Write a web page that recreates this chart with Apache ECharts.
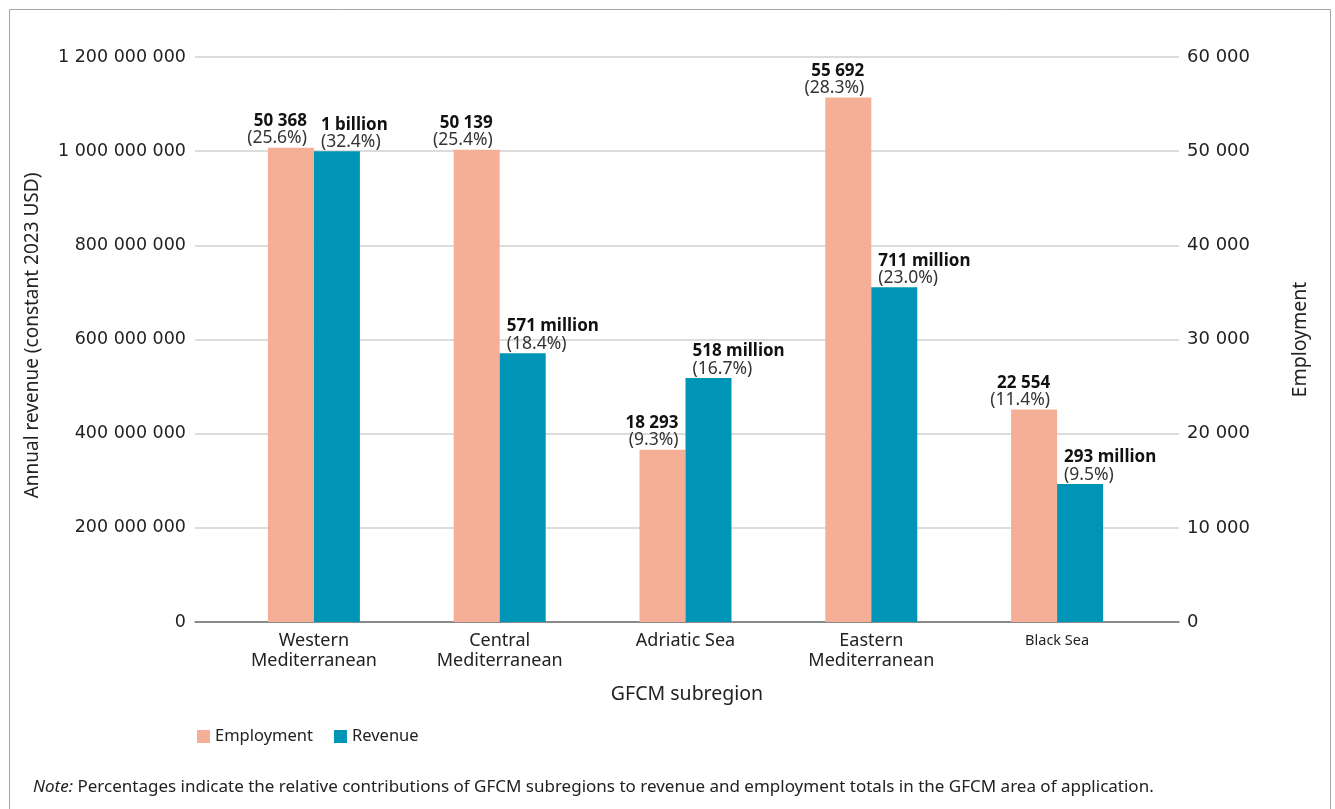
<!DOCTYPE html>
<html>
<head>
<meta charset="utf-8">
<script src="https://cdn.jsdelivr.net/npm/echarts@6/dist/echarts.min.js"></script>
<style>
  html, body { margin: 0; padding: 0; background: #fff; }
  #main { width: 1335px; height: 809px; }
</style>
</head>
<body>
<div id="main"></div>
<script>
var subregions = ['Western\nMediterranean', 'Central\nMediterranean', 'Adriatic Sea', 'Eastern\nMediterranean', 'Black Sea'];
var employment = [50368, 50139, 18293, 55692, 22554];
var employmentShare = ['25.6%', '25.4%', '9.3%', '28.3%', '11.4%'];
var revenue = [1000000000, 571000000, 518000000, 711000000, 293000000];
var revenueText = ['1 billion', '571 million', '518 million', '711 million', '293 million'];
var revenueShare = ['32.4%', '18.4%', '16.7%', '23.0%', '9.5%'];

var revenueTicks = { min: 0, max: 1200000000, interval: 200000000 };
var employmentTicks = { min: 0, max: 60000, interval: 10000 };

var dom = document.getElementById('main');
var myChart = echarts.init(dom);

function spaced(v) {
    return String(v).replace(/\B(?=(\d{3})+(?!\d))/g, ' ');
}

var labelRich = {
    b: { fontFamily: 'Noto Sans', fontSize: 17, fontWeight: 'bold', color: '#111', lineHeight: 17 },
    p: { fontFamily: 'Noto Sans', fontSize: 17.5, color: '#333', lineHeight: 17 }
};

var catData = subregions.map(function (s) {
    if (s === 'Black Sea') return { value: s, textStyle: { fontSize: 14.5 } };
    return s;
});

option = {
    backgroundColor: '#fff',
    animation: false,
    graphic: [
        {
            type: 'rect',
            shape: { x: 9.5, y: 9.5, width: 1321, height: 820 },
            style: { fill: 'none', stroke: '#9ea8ae', lineWidth: 1 }
        },
        {
            type: 'text',
            left: 33,
            top: 779,
            style: {
                text: '{i|Note:} Percentages indicate the relative contributions of GFCM subregions to revenue and employment totals in the GFCM area of application.',
                rich: {
                    i: { fontStyle: 'italic', fontFamily: 'Noto Sans', fontSize: 17, fill: '#222' }
                },
                fontFamily: 'Noto Sans',
                fontSize: 17,
                fill: '#222'
            }
        }
    ],
    legend: {
        data: ['Employment', 'Revenue'],
        left: 192,
        top: 723,
        icon: 'rect',
        itemWidth: 13,
        itemHeight: 13,
        itemGap: 21,
        textStyle: { fontFamily: 'Noto Sans', fontSize: 16.5, color: '#222' }
    },
    grid: [
        { left: 195, right: 156, top: 57, bottom: 187 },
        { left: 221, right: 185, top: 57, bottom: 187 }
    ],
    xAxis: [
        {
            gridIndex: 0,
            type: 'category',
            data: ['', '', '', '', ''],
            axisLine: { show: true, lineStyle: { color: '#707070', width: 1.5 } },
            axisTick: { show: false },
            axisLabel: { show: false },
            name: 'GFCM subregion',
            nameLocation: 'middle',
            nameGap: 62,
            nameTextStyle: { fontFamily: 'Noto Sans', fontSize: 19.5, color: '#222' }
        },
        {
            gridIndex: 1,
            type: 'category',
            data: catData,
            axisLine: { show: false },
            axisTick: { show: false },
            axisLabel: {
                margin: 9,
                fontFamily: 'Noto Sans',
                fontSize: 18,
                lineHeight: 20,
                color: '#222',
                interval: 0
            }
        }
    ],
    yAxis: [
        {
            gridIndex: 0,
            type: 'value',
            min: revenueTicks.min,
            max: revenueTicks.max,
            interval: revenueTicks.interval,
            axisLine: { show: false },
            axisTick: { show: false },
            splitLine: { lineStyle: { color: '#d0d0d0', width: 1.5 } },
            axisLabel: {
                margin: 9,
                fontFamily: 'DejaVu Sans',
                fontSize: 17.5,
                color: '#222',
                formatter: spaced
            },
            name: 'Annual revenue (constant 2023 USD)',
            nameLocation: 'middle',
            nameGap: 153,
            nameRotate: 90,
            nameTextStyle: { fontFamily: 'Noto Sans', fontSize: 19, color: '#222', padding: [0, 0, 0, 8] }
        },
        {
            gridIndex: 0,
            type: 'value',
            position: 'right',
            min: employmentTicks.min,
            max: employmentTicks.max,
            interval: employmentTicks.interval,
            axisLine: { show: false },
            axisTick: { show: false },
            splitLine: { show: false },
            axisLabel: {
                margin: 8,
                fontFamily: 'DejaVu Sans',
                fontSize: 18,
                color: '#222',
                formatter: spaced
            },
            name: 'Employment',
            nameLocation: 'middle',
            nameGap: 111,
            nameRotate: 90,
            nameTextStyle: { fontFamily: 'Noto Sans', fontSize: 19.5, color: '#222' }
        },
        {
            gridIndex: 1,
            type: 'value',
            show: false,
            min: revenueTicks.min,
            max: revenueTicks.max,
            splitLine: { show: false }
        },
        {
            gridIndex: 1,
            type: 'value',
            show: false,
            min: employmentTicks.min,
            max: employmentTicks.max,
            splitLine: { show: false }
        }
    ],
    series: [
        {
            name: 'Employment',
            type: 'bar',
            xAxisIndex: 1,
            yAxisIndex: 3,
            barWidth: 46,
            barGap: '0%',
            itemStyle: { color: '#f5af97' },
            data: employment,
            label: {
                show: true,
                position: [39, -1],
                align: 'right',
                verticalAlign: 'bottom',
                formatter: function (p) {
                    return '{b|' + spaced(p.value) + '}\n{p|(' + employmentShare[p.dataIndex] + ')}';
                },
                rich: labelRich
            }
        },
        {
            name: 'Revenue',
            type: 'bar',
            xAxisIndex: 1,
            yAxisIndex: 2,
            barWidth: 46,
            barGap: '0%',
            itemStyle: { color: '#0095b6' },
            data: revenue,
            label: {
                show: true,
                position: [7, -1],
                align: 'left',
                verticalAlign: 'bottom',
                formatter: function (p) {
                    return '{b|' + revenueText[p.dataIndex] + '}\n{p|(' + revenueShare[p.dataIndex] + ')}';
                },
                rich: labelRich
            }
        }
    ]
};

if (option && typeof option === 'object') {
    myChart.setOption(option, true);
}
</script>
</body>
</html>
